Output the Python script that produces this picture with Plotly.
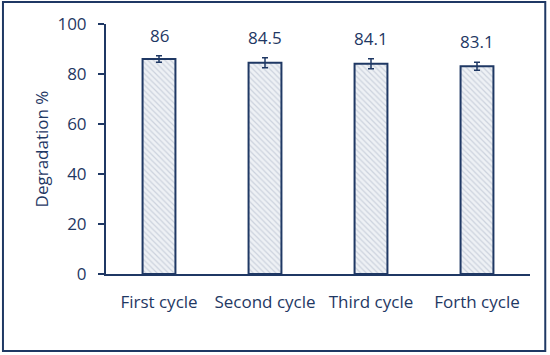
import plotly.graph_objects as go

categories = ["First cycle", "Second cycle", "Third cycle", "Forth cycle"]
values = [86, 84.5, 84.1, 83.1]
errors = [1.3, 2.0, 2.0, 1.6]
labels = ["86", "84.5", "84.1", "83.1"]
yticks = [0, 20, 40, 60, 80, 100]

navy = "#1F3864"
font = "Open Sans"

fig = go.Figure()
fig.add_trace(go.Bar(
    x=categories, y=values, width=0.31,
    marker=dict(color="white", line=dict(color=navy, width=2),
                pattern=dict(shape="\\", fgcolor="#A9B4C6", bgcolor="#EEF1F5", size=4, solidity=0.3)),
    error_y=dict(type="data", array=errors, visible=True, color=navy, thickness=1.5, width=3),
))
for c, v, e, t in zip(categories, values, errors, labels):
    fig.add_annotation(x=c, y=v + e, text=t, showarrow=False, yanchor="bottom", yshift=7,
                       font=dict(family=font, size=17, color=navy))

fig.add_shape(type="rect", xref="paper", yref="paper", x0=-0.243, x1=1.036, y0=-0.308, y1=1.088,
              line=dict(color=navy, width=2), fillcolor="rgba(0,0,0,0)")

fig.update_layout(
    width=550, height=355, margin=dict(l=106, r=20, t=24, b=81),
    plot_bgcolor="white", paper_bgcolor="white", showlegend=False,
    font=dict(family=font, color=navy, size=16),
    xaxis=dict(showline=True, linecolor=navy, linewidth=2, ticks="", showgrid=False,
               ticklabelstandoff=12, tickfont=dict(size=17, color=navy)),
    yaxis=dict(range=[0, 100], tickvals=yticks, showline=True, linecolor=navy, linewidth=2,
               ticks="outside", ticklen=6, tickcolor=navy, tickwidth=2, showgrid=False, zeroline=False,
               ticklabelstandoff=8, tickfont=dict(size=17, color=navy),
               title=dict(text="Degradation %", font=dict(size=17, color=navy), standoff=4)),
)
fig.write_html("out.html", config={"displayModeBar": False},
               post_script="document.body.style.margin='0';document.body.style.overflow='hidden';")
